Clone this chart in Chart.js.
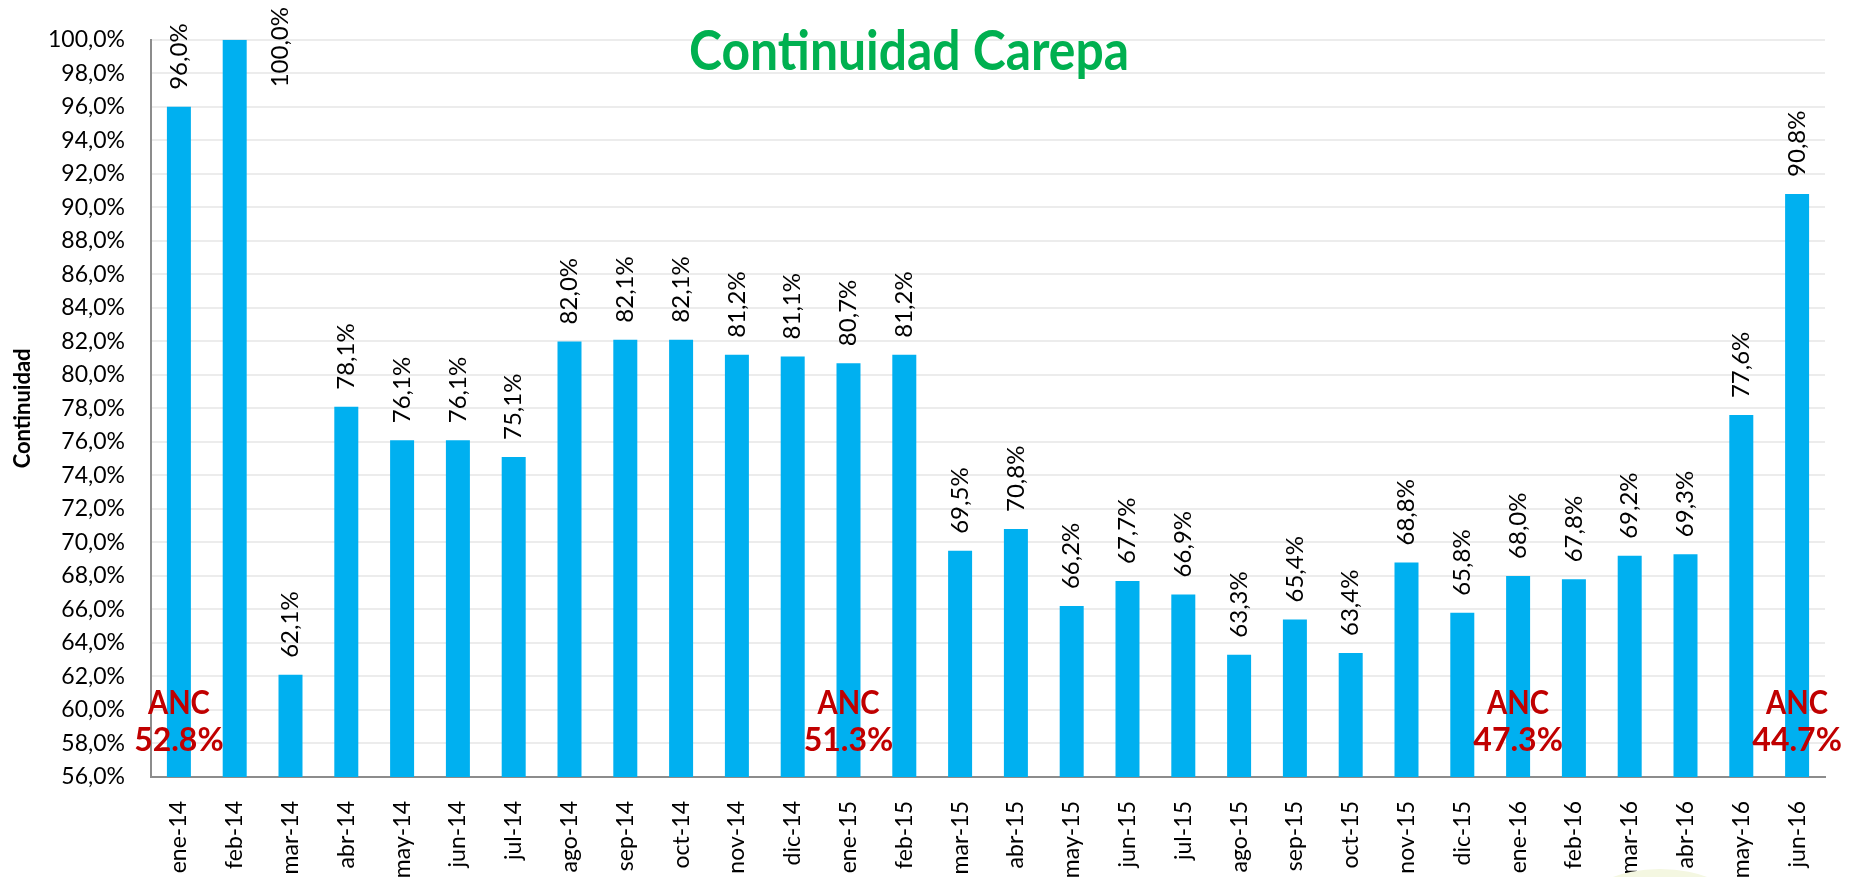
<!DOCTYPE html>
<html lang="es">
<head>
<meta charset="utf-8">
<title>Continuidad Carepa</title>
<script src="https://cdn.jsdelivr.net/npm/chart.js@4.4.1/dist/chart.umd.min.js"></script>
<style>
  html, body { margin: 0; padding: 0; background: #fff; }
  #chart { display: block; }
</style>
</head>
<body>
<canvas id="chart" width="1853" height="877"></canvas>
<script>
// datos
const months = [
  "ene-14", "feb-14", "mar-14", "abr-14", "may-14", "jun-14", "jul-14", "ago-14",
  "sep-14", "oct-14", "nov-14", "dic-14", "ene-15", "feb-15", "mar-15", "abr-15",
  "may-15", "jun-15", "jul-15", "ago-15", "sep-15", "oct-15", "nov-15", "dic-15",
  "ene-16", "feb-16", "mar-16", "abr-16", "may-16", "jun-16"
];
const continuidad = [
  96.0, 100.0, 62.1, 78.1, 76.1, 76.1, 75.1, 82.0,
  82.1, 82.1, 81.2, 81.1, 80.7, 81.2, 69.5, 70.8,
  66.2, 67.7, 66.9, 63.3, 65.4, 63.4, 68.8, 65.8,
  68.0, 67.8, 69.2, 69.3, 77.6, 90.8
];
const yMin = 56;
const yMax = 100;
const yStep = 2;

// notas ANC: mes donde se dibujan y su valor
const ancMonths = ["ene-14", "ene-15", "ene-16", "jun-16"];
const ancValues = ["52.8%", "51.3%", "47.3%", "44.7%"];

const FONT = "Lato, 'Liberation Sans', sans-serif";

function fmtPct(v) {
  return v.toFixed(1).replace(".", ",") + "%";
}

// etiquetas verticales encima de cada barra
const barLabels = {
  id: "barLabels",
  afterDatasetsDraw(chart) {
    const ctx = chart.ctx;
    const meta = chart.getDatasetMeta(0);
    const step = chart.scales.x.width / months.length;
    ctx.save();
    ctx.font = "24px " + FONT;
    ctx.fillStyle = "#000";
    ctx.textBaseline = "middle";
    ctx.textAlign = "left";
    meta.data.forEach((bar, i) => {
      const text = fmtPct(continuidad[i]);
      const w = ctx.measureText(text).width;
      let x = bar.x;
      let yStart = bar.y - 17;
      // si no cabe arriba, se corre a la derecha (como en excel)
      if (yStart - w < 6) {
        x = bar.x + step * 0.82;
        yStart = 7 + w;
      }
      ctx.save();
      ctx.translate(x, yStart);
      ctx.rotate(-Math.PI / 2);
      ctx.fillText(text, 0, 0);
      ctx.restore();
    });
    ctx.restore();
  }
};

// titulo y notas ANC
const extras = {
  id: "extras",
  afterDraw(chart) {
    const ctx = chart.ctx;
    const xs = chart.scales.x;
    ctx.save();

    // mancha verde palida abajo a la derecha
    ctx.fillStyle = "#f4f7e1";
    ctx.beginPath();
    ctx.ellipse(1660, 905, 75, 36, 0, 0, Math.PI * 2);
    ctx.fill();

    ctx.fillStyle = "#00B050";
    ctx.font = "bold 56px " + FONT;
    ctx.textAlign = "center";
    ctx.textBaseline = "alphabetic";
    ctx.fillText("Continuidad Carepa", 909, 70, 440);

    ctx.fillStyle = "#C00000";
    ctx.font = "bold 32px " + FONT;
    ctx.textBaseline = "middle";
    ancMonths.forEach((m, i) => {
      const x = xs.getPixelForValue(months.indexOf(m));
      ctx.fillText("ANC", x, 704, 62);
      ctx.fillText(ancValues[i], x, 741, 92);
    });
    ctx.restore();
  }
};

new Chart(document.getElementById("chart"), {
  type: "bar",
  data: {
    labels: months,
    datasets: [
      {
        label: "Continuidad",
        data: continuidad,
        backgroundColor: "#00B0F0",
        barPercentage: 0.43,
        categoryPercentage: 1,
      },
    ],
  },
  options: {
    responsive: false,
    animation: false,
    devicePixelRatio: 1,
    layout: { padding: { top: 37, right: 28, left: 0, bottom: 0 } },
    plugins: {
      legend: { display: false },
      tooltip: { enabled: false },
    },
    scales: {
      x: {
        grid: { display: false },
        border: { display: true, color: "#8c8c8c", width: 2 },
        ticks: {
          autoSkip: false,
          minRotation: 90,
          maxRotation: 90,
          padding: 16,
          color: "#000",
          font: { family: FONT, size: 23 },
        },
        afterFit: (scale) => { scale.height = 100; },
      },
      y: {
        min: yMin,
        max: yMax,
        grid: { color: "#ececec", lineWidth: 2, drawTicks: false },
        border: { display: true, color: "#8c8c8c", width: 2 },
        ticks: {
          stepSize: yStep,
          padding: 26,
          color: "#000",
          font: { family: FONT, size: 23 },
          callback: (v) => fmtPct(v),
        },
        title: {
          display: true,
          text: "Continuidad",
          color: "#000",
          font: { family: FONT, size: 22, weight: "bold" },
          padding: { top: 10, bottom: 0 },
        },
        afterFit: (scale) => { scale.width = 151; },
      },
    },
  },
  plugins: [barLabels, extras],
});
</script>
</body>
</html>
